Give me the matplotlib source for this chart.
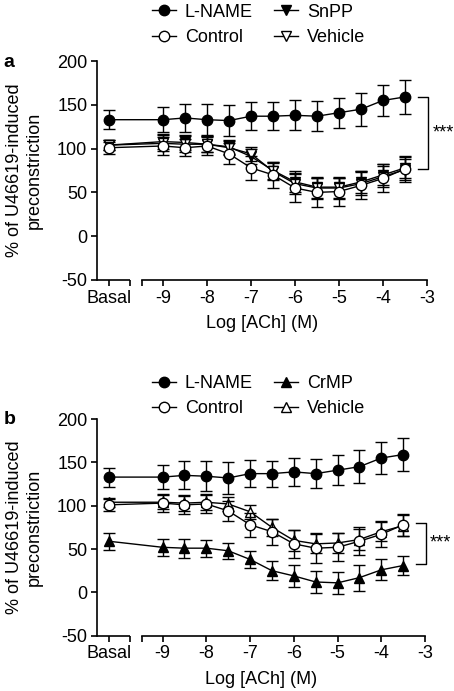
import numpy as np
import matplotlib
matplotlib.use("Agg")
import matplotlib.pyplot as plt
from matplotlib.lines import Line2D

plt.rcParams['font.family'] = ['Liberation Sans', 'DejaVu Sans']
plt.rcParams['axes.unicode_minus'] = False

# x positions: basal then log concentrations
BASAL_X = -10.23
log_ach = [-9, -8.5, -8, -7.5, -7, -6.5, -6, -5.5, -5, -4.5, -4, -3.5]
tick_labels = ['Basal', '', '', '-9', '-8', '-7', '-6', '-5', '-4', '-3']

# panel a
a_lname = [133, 133, 135, 133, 132, 137, 137, 138, 137, 141, 145, 155, 159]
a_lname_err = [11, 14, 16, 18, 18, 16, 16, 17, 17, 17, 19, 18, 19]
a_control = [101, 103, 101, 103, 94, 78, 70, 55, 50, 51, 58, 66, 77]
a_control_err = [7, 10, 10, 10, 12, 14, 15, 16, 17, 16, 16, 16, 15]
a_snpp = [104, 108, 107, 105, 102, 91, 75, 62, 56, 56, 62, 70, 78]
a_snpp_err = [6, 9, 9, 9, 8, 9, 10, 12, 12, 12, 13, 12, 12]
a_vehicle = [104, 106, 105, 105, 101, 94, 74, 60, 55, 55, 60, 68, 76]
a_vehicle_err = [6, 9, 9, 9, 8, 8, 10, 12, 12, 12, 13, 12, 12]

# panel b
b_lname = [133, 133, 135, 134, 132, 137, 137, 139, 137, 141, 145, 155, 159]
b_lname_err = [11, 14, 16, 17, 18, 16, 15, 16, 17, 17, 19, 18, 19]
b_control = [101, 103, 101, 102, 94, 78, 70, 56, 51, 52, 59, 67, 78]
b_control_err = [7, 10, 10, 10, 12, 14, 15, 16, 17, 16, 16, 15, 13]
b_crmp = [59, 52, 51, 51, 48, 38, 25, 19, 12, 11, 17, 26, 31]
b_crmp_err = [10, 10, 11, 10, 9, 10, 11, 13, 13, 13, 15, 12, 11]
b_vehicle = [104, 104, 103, 104, 102, 93, 75, 60, 56, 57, 61, 70, 77]
b_vehicle_err = [5, 8, 9, 9, 8, 8, 10, 12, 11, 11, 12, 11, 12]

xs = [BASAL_X] + log_ach
LW = 1.0
MS = 7.5


def draw_series(ax, y, err, marker, mfc, z):
    ax.errorbar(xs, y, yerr=err, color='black', lw=LW, marker=marker, ms=MS,
                mfc=mfc, mec='black', mew=1.0, capsize=4, elinewidth=1.0,
                capthick=1.0, zorder=z, clip_on=False)


def style_axes(ax):
    ax.set_xlim(-10.5, -3)
    ax.set_ylim(-50, 200)
    ax.set_yticks([-50, 0, 50, 100, 150, 200])
    # basal tick, the two break ends, then the log ticks
    ax.set_xticks([BASAL_X, -9.75, -9.48, -9, -8, -7, -6, -5, -4, -3])
    ax.set_xticklabels(tick_labels)
    for s in ['top', 'right']:
        ax.spines[s].set_visible(False)
    ax.spines['left'].set_linewidth(1.2)
    ax.spines['bottom'].set_linewidth(1.2)
    ax.spines['bottom'].set_bounds(-9.48, -3)
    ax.plot([-10.5, -9.75], [-50, -50], color='black', lw=1.2, clip_on=False,
            solid_capstyle='butt')
    ax.tick_params(direction='out', length=4, width=1.2, labelsize=13, pad=3)
    ax.set_xlabel('Log [ACh] (M)', fontsize=13, labelpad=6)
    ax.set_ylabel('% of U46619-induced\npreconstriction', fontsize=13)
    ax.yaxis.set_label_coords(-0.165, 0.5)


fig = plt.figure(figsize=(4.54, 6.91), dpi=100)
ax_a = fig.add_axes([0.2137, 0.5948, 0.727, 0.3169])
ax_b = fig.add_axes([0.2137, 0.0800, 0.7225, 0.3136])

# panel a
draw_series(ax_a, a_snpp, a_snpp_err, 'v', 'black', 3)
draw_series(ax_a, a_vehicle, a_vehicle_err, 'v', 'white', 4)
draw_series(ax_a, a_control, a_control_err, 'o', 'white', 5)
draw_series(ax_a, a_lname, a_lname_err, 'o', 'black', 6)
style_axes(ax_a)
ax_a.plot([-3.2, -2.97, -2.97, -3.2], [159, 159, 77, 77], color='black', lw=1.0, clip_on=False)
ax_a.text(-2.88, 118, '***', fontsize=13, ha='left', va='center')

# panel b
draw_series(ax_b, b_crmp, b_crmp_err, '^', 'black', 3)
draw_series(ax_b, b_vehicle, b_vehicle_err, '^', 'white', 4)
draw_series(ax_b, b_control, b_control_err, 'o', 'white', 5)
draw_series(ax_b, b_lname, b_lname_err, 'o', 'black', 6)
style_axes(ax_b)
ax_b.plot([-3.2, -2.97, -2.97, -3.2], [80, 80, 33, 33], color='black', lw=1.0, clip_on=False)
ax_b.text(-2.9, 57, '***', fontsize=13, ha='left', va='center')


def legend_handles(tri):
    return [Line2D([], [], color='black', lw=LW, marker='o', ms=MS, mfc='black', mec='black'),
            Line2D([], [], color='black', lw=LW, marker='o', ms=MS, mfc='white', mec='black'),
            Line2D([], [], color='black', lw=LW, marker=tri, ms=MS, mfc='black', mec='black'),
            Line2D([], [], color='black', lw=LW, marker=tri, ms=MS, mfc='white', mec='black')]


fig.legend(legend_handles('v'), ['L-NAME', 'Control', 'SnPP', 'Vehicle'],
           loc='upper center', bbox_to_anchor=(0.57, 1.018), ncol=2, frameon=False,
           fontsize=13, handlelength=1.3, handletextpad=0.5, columnspacing=1.2,
           labelspacing=0.45)
fig.legend(legend_handles('^'), ['L-NAME', 'Control', 'CrMP', 'Vehicle'],
           loc='upper center', bbox_to_anchor=(0.57, 0.481), ncol=2, frameon=False,
           fontsize=13, handlelength=1.3, handletextpad=0.5, columnspacing=1.2,
           labelspacing=0.45)

fig.text(0.008, 0.91, 'a', fontsize=14, fontweight='bold', va='center')
fig.text(0.008, 0.393, 'b', fontsize=14, fontweight='bold', va='center')

fig.savefig('out.png', dpi=100)
